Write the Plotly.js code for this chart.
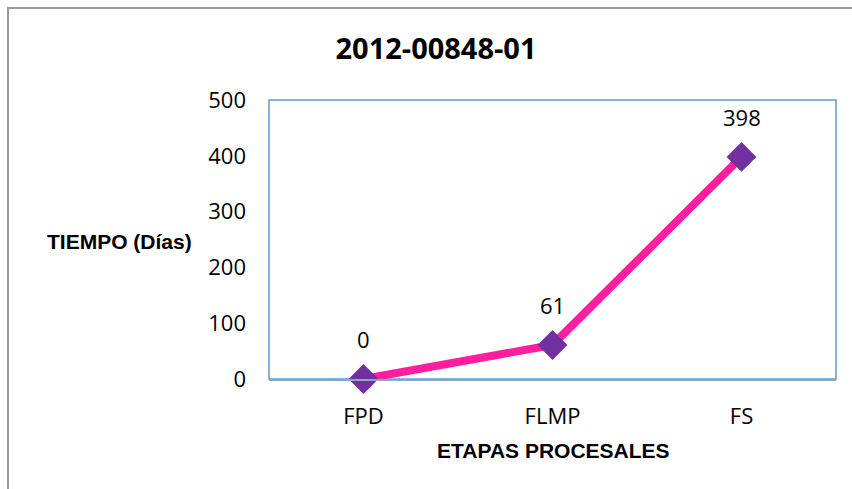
<!DOCTYPE html>
<html>
<head>
<meta charset="utf-8">
<script src="https://cdn.plot.ly/plotly-3.0.1.min.js"></script>
<style>
  html, body { margin:0; padding:0; background:#fff; }
  #wrap { position:relative; width:852px; height:489px; overflow:hidden; }
  #frame { position:absolute; left:7px; top:7px; width:900px; height:600px;
           border-left:2px solid #9a9a9a; border-top:2px solid #9a9a9a; box-sizing:border-box; }
  #chart { position:absolute; left:0; top:0; width:852px; height:489px; }
</style>
</head>
<body>
<div id="wrap">
  <div id="chart"></div>
  <div id="frame"></div>
</div>
<script>
const categories = ['FPD', 'FLMP', 'FS'];
const tiempo = [0, 61, 398];
const yTicks = [0, 100, 200, 300, 400, 500];
const chartTitle = '2012-00848-01';
const xTitle = 'ETAPAS PROCESALES';
const yTitle = 'TIEMPO (Días)';

const numFont = 'Open Sans, Noto Sans, sans-serif';

const trace = {
  x: categories,
  y: tiempo,
  type: 'scatter',
  mode: 'lines+markers',
  line: { color: '#FF1F9E', width: 8 },
  marker: { symbol: 'diamond', size: 23, color: '#7030A0' },
  hoverinfo: 'none',
  cliponaxis: false
};

const labelAnns = categories.map((c, i) => ({
  x: c, y: tiempo[i], xref: 'x', yref: 'y',
  text: String(tiempo[i]), showarrow: false, yshift: 40,
  font: { family: numFont, size: 22, color: '#000' }
}));

const layout = {
  width: 852, height: 489,
  margin: { l: 269, r: 16, t: 100, b: 110 },
  paper_bgcolor: 'rgba(0,0,0,0)',
  plot_bgcolor: '#fff',
  showlegend: false,
  title: {
    text: chartTitle,
    xref: 'container', yref: 'container',
    x: 436 / 852, y: 1 - 49 / 489, xanchor: 'center', yanchor: 'middle',
    font: { family: numFont, size: 29, color: '#000', weight: 'bold' }
  },
  xaxis: {
    type: 'category',
    range: [-0.5, 2.5],
    showgrid: false, zeroline: false,
    showline: true, linecolor: '#8FA6C0', linewidth: 1.5,
    ticks: '', ticklabelstandoff: 17,
    tickfont: { family: numFont, size: 22, color: '#000' }
  },
  yaxis: {
    range: [0, 500],
    tickvals: yTicks,
    showgrid: false, zeroline: false, showline: false,
    ticks: '', ticklabelstandoff: 22,
    tickfont: { family: numFont, size: 22, color: '#000' }
  },
  shapes: [{
    type: 'rect', xref: 'paper', yref: 'paper', x0: 0, x1: 1, y0: 0, y1: 1,
    line: { color: '#5B9BD5', width: 1.5 }, layer: 'below'
  }],
  annotations: labelAnns.concat([
    {
      text: '<b>' + yTitle + '</b>', xref: 'paper', yref: 'paper',
      x: (119 - 269) / 567, y: (379 - 242) / 279, xanchor: 'center', yanchor: 'middle',
      showarrow: false,
      font: { family: 'Liberation Sans, Arial, sans-serif', size: 21, color: '#000' }
    },
    {
      text: '<b>' + xTitle + '</b>', xref: 'paper', yref: 'paper',
      x: (553 - 269) / 567, y: -(450 - 379) / 279, xanchor: 'center', yanchor: 'middle',
      showarrow: false,
      font: { family: 'Liberation Sans, Arial, sans-serif', size: 21, color: '#000' }
    }
  ])
};

Plotly.newPlot('chart', [trace], layout, { displayModeBar: false, staticPlot: true });
</script>
</body>
</html>
